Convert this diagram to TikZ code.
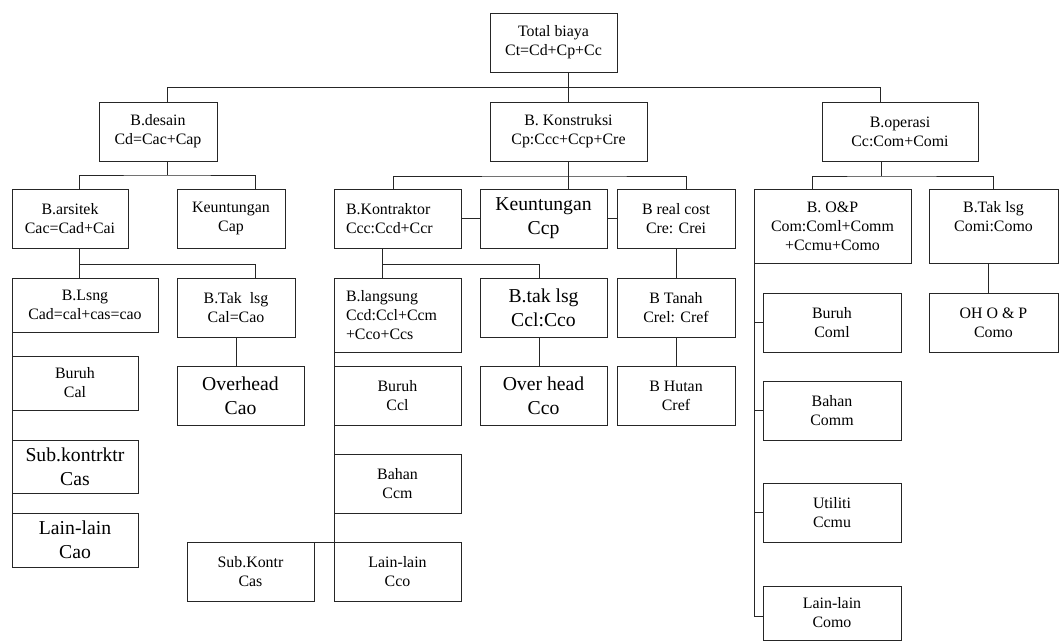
\documentclass[tikz,border=0pt]{standalone}
\usepackage{fontspec}
\setmainfont{Liberation Serif}
\usepackage{tikz}
\usetikzlibrary{positioning,calc}
\newdimen\pxu \pxu=0.025cm
\newcommand{\fnormal}{\fontsize{11.3}{13.5}\selectfont}
\newcommand{\fbesar}{\fontsize{14}{17}\selectfont}
\begin{document}
\begin{tikzpicture}[x=0.025cm,y=-0.025cm,
    box/.style 2 args={rectangle,draw=black!85,line width=0.65pt,inner sep=0pt,outer sep=0pt,align=center,font=\fnormal,
      minimum width=#1\pxu,minimum height=#2\pxu},
    besar/.style={font=\fbesar},
    kiri/.style={align=left,text width=103\pxu},
    garis/.style={draw=black!85,line width=0.65pt}]
\useasboundingbox (0,0) rectangle (1060,641);

% Tingkat atas
\node[box={127}{59}] (total) at (553.5,42.5) {Total biaya\\Ct=Cd+Cp+Cc};
\node[box={118}{59}] (desain) at (158,131.5) {B.desain\\Cd=Cac+Cap};
\node[box={157}{59}] (konstruksi) at (568.5,131.5) {B. Konstruksi\\Cp:Ccc+Ccp+Cre};
\node[box={156}{59}] (operasi) at (900,131.5) {B.operasi\\Cc:Com+Comi};

% Biaya desain
\node[box={116}{59}] (arsitek) at (70,218.5) {B.arsitek\\Cac=Cad+Cai};
\node[box={108}{59}] (capk) at (231,218.5) {Keuntungan\\Cap};
\node[box={146}{54}] (lsng) at (85,305) {B.Lsng\\Cad=cal+cas=cao};
\node[box={118}{59}] (taklsgL) at (236,307.5) {B.Tak\ \ lsg\\Cal=Cao};
\node[box={127}{59},besar] (overheadA) at (240.5,395.5) {Overhead\\Cao};
\node[box={126}{54}] (buruhA) at (75,383) {Buruh\\Cal};
\node[box={126}{53},besar] (subA) at (75,466.5) {Sub.kontrktr\\Cas};
\node[box={126}{54},besar] (lainA) at (75,540) {Lain-lain\\Cao};

% Biaya konstruksi
\node[box={127}{59},kiri] (kontraktor) at (397.5,218.5) {B.Kontraktor\\Ccc:Ccd+Ccr};
\node[box={127}{59},besar] (kccp) at (543.5,218.5) {Keuntungan\\Ccp};
\node[box={118}{59}] (realcost) at (676,218.5) {B real cost\\Cre: Crei};
\node[box={127}{74},kiri] (langsung) at (397.5,315) {B.langsung\\Ccd:Ccl+Ccm\\+Cco+Ccs};
\node[box={127}{59},besar] (taklsgM) at (543.5,307.5) {B.tak lsg\\Ccl:Cco};
\node[box={127}{59},besar] (overheadC) at (543.5,395.5) {Over head\\Cco};
\node[box={127}{59}] (buruhC) at (397.5,395.5) {Buruh\\Ccl};
\node[box={127}{59}] (bahanC) at (397.5,483.5) {Bahan\\Ccm};
\node[box={127}{59}] (lainC) at (397.5,571.5) {Lain-lain\\Cco};
\node[box={127}{59}] (subC) at (250.5,571.5) {Sub.Kontr\\Cas};
\node[box={118}{59}] (tanah) at (676,307.5) {B Tanah\\Crel: Cref};
\node[box={118}{59}] (hutan) at (676,395.5) {B Hutan\\Cref};

% Biaya operasi
\node[box={157}{74}] (oandp) at (832.5,226) {B. O\&P\\Com:Coml+Comm\\+Ccmu+Como};
\node[box={129}{74}] (taklsgR) at (993.5,226) {B.Tak lsg\\Comi:Como\\\mbox{}};
\node[box={138}{59}] (buruhO) at (832,322.5) {Buruh\\Coml};
\node[box={138}{59}] (bahanO) at (832,410.5) {Bahan\\Comm};
\node[box={138}{59}] (utilO) at (832,512.5) {Utiliti\\Ccmu};
\node[box={138}{54}] (lainO) at (832,613) {Lain-lain\\Como};
\node[box={129}{59}] (ohop) at (993.5,322.5) {OH O \& P\\Como};

% Garis penghubung
\draw[garis] (total.south -| konstruksi.north) -- (konstruksi.north);
\draw[garis] ([xshift=9\pxu]desain.north) -- ++(0,-15) -| ([xshift=-20\pxu]operasi.north);

\draw[garis] ([xshift=9\pxu]desain.south) -- ++(0,14) coordinate (d1);
\draw[garis] ([xshift=9\pxu]arsitek.north) |- (d1) -| ([xshift=24\pxu]capk.north);
\draw[garis] (konstruksi.south) -- ++(0,15) coordinate (k1) -- (k1 |- kccp.north);
\draw[garis] ([xshift=-4\pxu]kontraktor.north) |- (k1) -| ([xshift=10\pxu]realcost.north);
\draw[garis] (kontraktor) -- (kccp);
\draw[garis] (kccp) -- (realcost);
\draw[garis] ([xshift=-19\pxu]operasi.south) -- ++(0,15) coordinate (o1);
\draw[garis] ([xshift=-20\pxu]oandp.north) |- (o1) -| (taklsgR.north);

\draw[garis] ([xshift=9\pxu]arsitek.south) -- ([xshift=-6\pxu]lsng.north);
\path ([xshift=9\pxu]arsitek.south) ++(0,16) coordinate (a1);
\draw[garis] (a1) -| ([xshift=19\pxu]taklsgL.north);
\draw[garis] (taklsgL.south) -- (taklsgL.south |- overheadA.north);
\draw[garis] (lsng.south west) -- (lainA.north west);

\draw[garis] ([xshift=-15\pxu]kontraktor.south) -- ([xshift=-15\pxu]langsung.north);
\path ([xshift=-15\pxu]kontraktor.south) ++(0,16) coordinate (m1);
\draw[garis] (m1) -| ([xshift=-4\pxu]taklsgM.north);
\draw[garis] ([xshift=-4\pxu]taklsgM.south) -- ([xshift=-4\pxu]overheadC.north);
\draw[garis] (langsung.south west) -- (lainC.north west);
\draw[garis] (subC.north east) -- (lainC.north west);
\draw[garis] (realcost) -- (tanah);
\draw[garis] (tanah) -- (hutan);

\draw[garis] (oandp.south west) -- ([yshift=-3\pxu]oandp.south west |- lainO.west);
\foreach \n in {buruhO,bahanO,utilO}
  \draw[garis] (\n.west) -- (\n.west -| oandp.south west);
\draw[garis] ([yshift=-3\pxu]lainO.west) -- ([yshift=-3\pxu]lainO.west -| oandp.south west);
\draw[garis] ([xshift=-5\pxu]taklsgR.south) -- ([xshift=-5\pxu]ohop.north);

\end{tikzpicture}
\end{document}
